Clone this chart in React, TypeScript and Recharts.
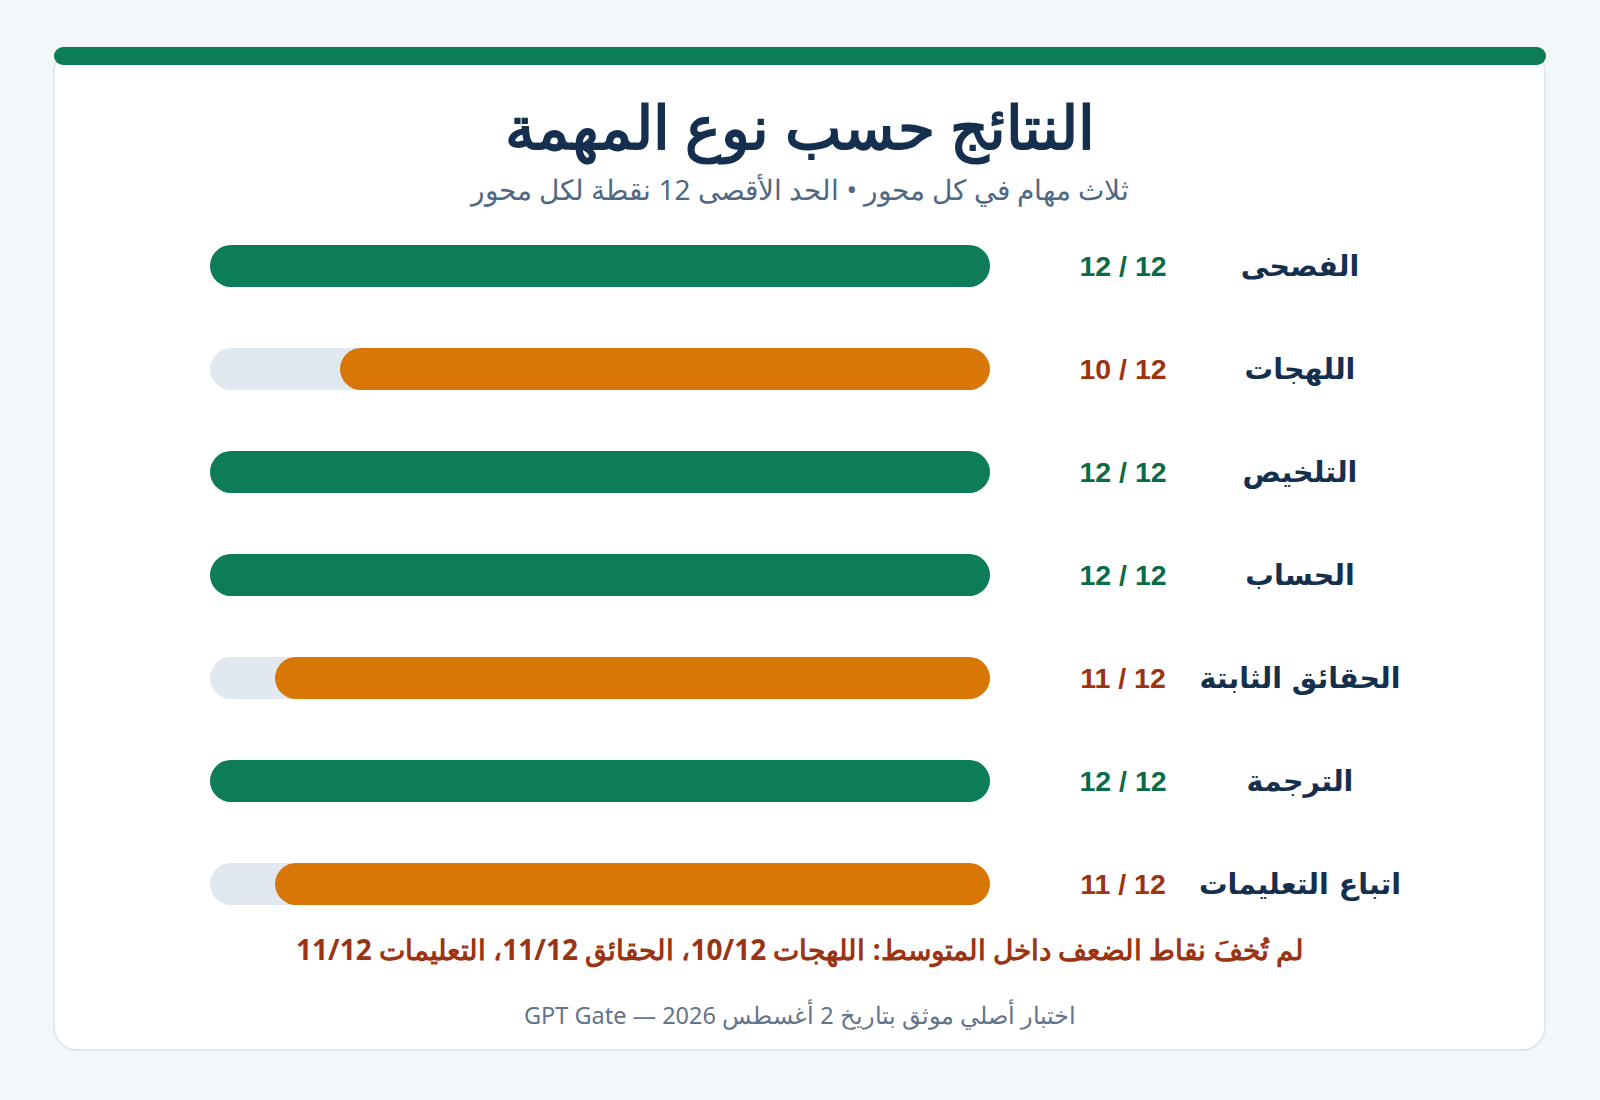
import React from "react";
import { BarChart, Bar, XAxis, YAxis, Cell } from "recharts";

const categories = ["الفصحى", "اللهجات", "التلخيص", "الحساب", "الحقائق الثابتة", "الترجمة", "اتباع التعليمات"];
const scores = [12, 10, 12, 12, 11, 12, 11];
const maxScore = 12;

const data = categories.map((name, i) => ({ name, score: scores[i] }));

const GREEN = "#0C7C59";
const ORANGE = "#D97706";
const NAVY = "#15304E";

const ScoreTick = (props: any) => {
    const { x, y, payload } = props;
    const value = scores[payload.index];
    const full = value === maxScore;
    return (
        <g>
            <text
                x={x + 133}
                y={y}
                dy={10}
                textAnchor="middle"
                fontFamily="'Liberation Sans', Arial, sans-serif"
                fontWeight={700}
                fontSize={28.5}
                fill={full ? "#0B6B47" : "#9A3412"}
            >
                {`${value} / ${maxScore}`}
            </text>
            <text
                x={x + 310}
                y={y}
                dy={10}
                textAnchor="middle"
                direction="rtl"
                fontFamily="'DejaVu Sans', sans-serif"
                fontWeight={700}
                fontSize={28.5}
                fill={NAVY}
            >
                {payload.value}
            </text>
        </g>
    );
};

const App: React.FC = () => {
    return (
        <div
            style={{
                position: "absolute",
                left: 0,
                top: 0,
                width: 1600,
                height: 1100,
                background: "#F3F7FA",
                fontFamily: "'Noto Sans', sans-serif",
            }}
        >
            <div
                style={{
                    position: "absolute",
                    left: 53,
                    top: 47,
                    width: 1489,
                    height: 1000,
                    background: "#fff",
                    border: "2px solid #E0E8F0",
                    borderRadius: 24,
                }}
            />
            <div
                style={{
                    position: "absolute",
                    left: 54,
                    top: 47,
                    width: 1492,
                    height: 18,
                    background: GREEN,
                    borderRadius: 9,
                }}
            />
            <div
                dir="rtl"
                style={{
                    position: "absolute",
                    left: 0,
                    top: 86,
                    width: 1600,
                    textAlign: "center",
                    fontSize: 60,
                    fontWeight: 700,
                    color: NAVY,
                    lineHeight: "80px",
                }}
            >
                النتائج حسب نوع المهمة
            </div>
            <div
                dir="rtl"
                style={{
                    position: "absolute",
                    left: 0,
                    top: 171,
                    width: 1600,
                    textAlign: "center",
                    fontSize: 28,
                    color: "#4F6883",
                    lineHeight: "36px",
                }}
            >
                ثلاث مهام في كل محور • الحد الأقصى 12 نقطة لكل محور
            </div>

            <div style={{ position: "absolute", left: 0, top: 0 }}>
                <BarChart
                    width={1600}
                    height={1100}
                    layout="vertical"
                    data={data}
                    margin={{ top: 214, right: 180, bottom: 165, left: 210 }}
                    barSize={42}
                >
                    <XAxis type="number" domain={[0, maxScore]} reversed hide />
                    <YAxis
                        type="category"
                        dataKey="name"
                        orientation="right"
                        width={430}
                        axisLine={false}
                        tickLine={false}
                        tickSize={0}
                        tickMargin={0}
                        interval={0}
                        tick={<ScoreTick />}
                    />
                    <Bar
                        dataKey="score"
                        radius={21}
                        background={{ fill: "#E2E8F0", radius: 21 } as any}
                        isAnimationActive={false}
                    >
                        {data.map((d, i) => (
                            <Cell key={i} fill={d.score === maxScore ? GREEN : ORANGE} />
                        ))}
                    </Bar>
                </BarChart>
            </div>

            <div
                dir="rtl"
                style={{
                    position: "absolute",
                    left: 0,
                    top: 931,
                    width: 1600,
                    textAlign: "center",
                    fontSize: 28,
                    fontWeight: 700,
                    color: "#9A3412",
                    lineHeight: "36px",
                }}
            >
                لم تُخفَ نقاط الضعف داخل المتوسط: اللهجات 10/12، الحقائق 11/12، التعليمات 11/12
            </div>
            <div
                dir="rtl"
                style={{
                    position: "absolute",
                    left: 0,
                    top: 999,
                    width: 1600,
                    textAlign: "center",
                    fontSize: 23.5,
                    color: "#64748B",
                    lineHeight: "32px",
                }}
            >
                اختبار أصلي موثق بتاريخ 2 أغسطس 2026 — GPT Gate
            </div>
        </div>
    );
};

export default App;
